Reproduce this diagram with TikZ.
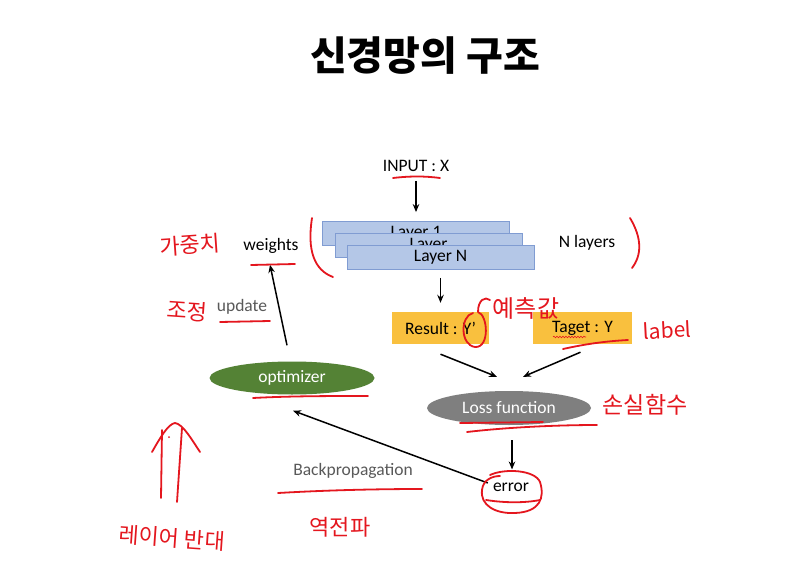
\documentclass[tikz,border=0pt]{standalone}
\usepackage{fontspec}
\setmainfont{Carlito}
\newfontfamily\kr{Noto Sans CJK KR}
\usetikzlibrary{arrows.meta,shapes.geometric,calc,decorations.pathmorphing}
\definecolor{layerfill}{RGB}{180,199,231}
\definecolor{layerdraw}{RGB}{128,156,210}
\definecolor{resfill}{RGB}{249,192,62}
\definecolor{optfill}{RGB}{84,130,53}
\definecolor{lossfill}{RGB}{127,127,127}
\definecolor{handred}{RGB}{228,22,30}
\definecolor{txtgray}{RGB}{89,89,89}
\tikzset{
  lbl/.style={font=\fontsize{17.5}{20}\selectfont, inner sep=1pt},
  layerbox/.style={lbl, draw=layerdraw, line width=0.8pt, fill=layerfill, minimum width=187pt, minimum height=24pt},
  resbox/.style={lbl, fill=resfill, minimum height=32pt},
  ell/.style={lbl, ellipse, text=white},
  arr/.style={-{Stealth[length=8pt,width=6.5pt]}, line width=1.5pt, black},
  hand/.style={draw=handred, line width=1.8pt, line cap=round, line join=round},
  handtxt/.style={font=\kr\fontsize{22}{24}\selectfont, text=handred, inner sep=0pt}
}
\begin{document}
\begin{tikzpicture}[x=1pt,y=-1pt]
\useasboundingbox[fill=white] (0,0) rectangle (811,575);
% title
\node[font=\kr\bfseries\fontsize{40}{44}\selectfont] (title) at (425,56) {신경망의 구조};
% main nodes
\node[lbl] (input) at (416,166) {INPUT : X};
\node[layerbox] (l1) at (416,233.5) {Layer 1};
\node[layerbox] (l2) at (428.5,245) {Layer};
\node[layerbox] (lN) at (440.5,257.5) {Layer N};
\node[lbl] (nlayers) at (587,243) {N layers};
\node[lbl] (weights) at (271,246) {weights};
\node[lbl, text=txtgray] (update) at (242,307) {update};
\node[resbox, minimum width=97pt] (result) at (440.5,328) {Result : Y’};
\node[resbox, minimum width=99pt] (target) at (582.5,328) {Taget : Y};
\node[ell, fill=lossfill, minimum width=164pt, minimum height=34pt] (loss) at (509,408) {Loss function};
\node[lbl] (error) at (511,487) {error};
\node[ell, fill=optfill, minimum width=165pt, minimum height=33pt] (optimizer) at (292,378) {optimizer};
\node[lbl, text=txtgray] (backprop) at (353,471) {Backpropagation};
% connectors
\draw[arr] ($(input.south)+(0,8)$) -- ($(l1.north)+(0,-9)$);
\draw[arr] ($(lN.south)+(0,8)$) -- ($(result.north)+(0,-9)$);
\draw[arr] ($(result.south)+(0,10)$) -- ($(loss.north)+(-12,-14)$);
\draw[arr] ($(target.south)+(-2,8)$) -- ($(loss.north)+(14,-14)$);
\draw[arr] ($(loss.south)+(3,15)$) -- ($(error.north)+(1,-12)$);
\draw[arr] ($(error.west)+(-4,-4)$) -- ($(optimizer.south)+(1,16)$);
\draw[arr] ($(optimizer.north)+(-5,-16)$) -- ($(weights.south)+(-1,10)$);
% handwritten annotations
\node[handtxt, rotate=4] (gz) at (190,245) {가중치};
\node[handtxt, rotate=-4] (jj) at (187,311) {조정};
\node[handtxt, font=\kr\fontsize{24}{26}\selectfont] (yc) at (526,308) {예측값};
\node[handtxt, font=\kr\fontsize{21}{24}\selectfont, rotate=3] (lab) at (667,330) {label};
\node[handtxt, font=\kr\fontsize{23}{25}\selectfont] (sh) at (645,405) {손실함수};
\node[handtxt] (yj) at (340,527) {역전파};
\node[handtxt, rotate=-4] (lb) at (172,538) {레이어 반대};
% red strokes
\draw[hand] (393,178) .. controls (410,176) and (425,176) .. (440,178);
\draw[hand] (312,218) .. controls (307,250) and (314,270) .. (333,277);
\draw[hand] (630,218) .. controls (642,238) and (642,255) .. (632,268);
\draw[hand] (251,265) -- (295,264);
\draw[hand] (220,322) -- (270,321);
\draw[hand] (473,313) .. controls (460,316) and (460,345) .. (475,347) .. controls (490,348) and (488,315) .. (478,312) .. controls (478,300) and (485,296) .. (490,300);
\draw[hand] (563,349) .. controls (590,343) and (610,341) .. (628,340);
\draw[draw=handred, line width=0.6pt, decorate, decoration={snake, amplitude=0.8pt, segment length=3pt}] (553,337) -- (586,337);
\draw[hand] (460,423) -- (543,422);
\draw[hand] (467,432) .. controls (510,427) and (560,425) .. (597,425);
\draw[hand] (253,398) .. controls (290,396) and (330,396) .. (368,396);
\draw[hand] (278,493) .. controls (330,490) and (380,489) .. (422,489);
\draw[hand] (490,475) .. controls (505,468) and (535,470) .. (540,482) .. controls (545,498) and (540,512) .. (515,513) .. controls (495,514) and (480,505) .. (482,490) .. controls (483,480) and (492,476) .. (500,476);
\draw[hand] (486,500) .. controls (505,503) and (525,503) .. (540,500);
\draw[hand] (161,498) -- (162,430);
\draw[hand] (177,502) -- (182,428);
\draw[hand] (152,452) .. controls (160,438) and (168,424) .. (175,423) .. controls (183,424) and (192,440) .. (200,452);
\fill[handred] (169,437) circle (1pt);
\end{tikzpicture}
\end{document}
